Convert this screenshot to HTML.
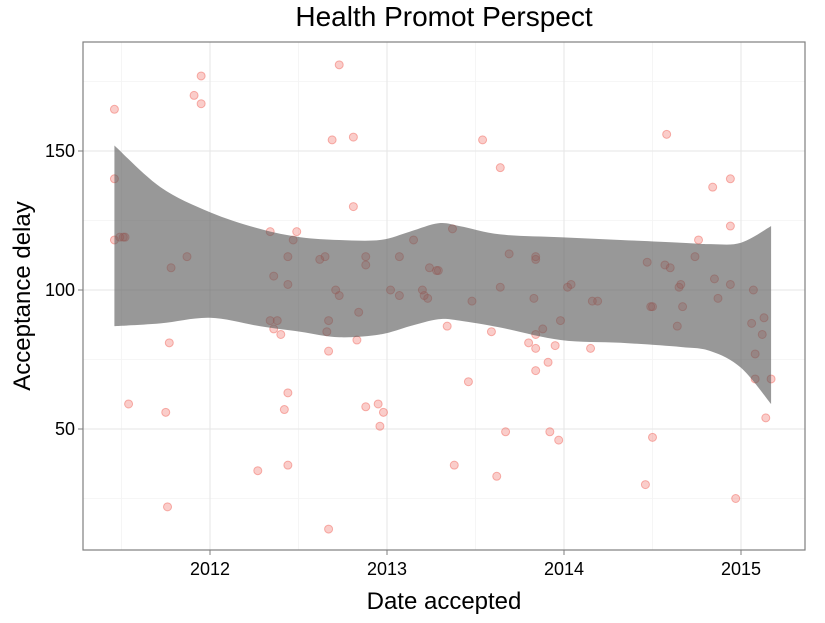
<!DOCTYPE html>
<html><head><meta charset="utf-8"><style>
body{margin:0;background:#fff;font-family:"Liberation Sans",sans-serif;}
</style></head><body>
<svg id="chart" width="825" height="618" xmlns="http://www.w3.org/2000/svg">
<rect width="825" height="618" fill="#fff"/>
<text x="444" y="26" font-size="28" text-anchor="middle" font-family="Liberation Sans">Health Promot Perspect</text>
<g id="grid"></g>
<g id="pts"></g>
<path id="band" fill="#595959" fill-opacity="0.62"/>
<rect x="83" y="42" width="722" height="508" fill="none" stroke="#7f7f7f" stroke-width="1.2"/>
<g id="axes"></g>
<text x="444" y="609" font-size="24" text-anchor="middle">Date accepted</text>
<text transform="translate(30,296) rotate(-90)" font-size="24" text-anchor="middle">Acceptance delay</text>
</svg>
<script>
const years=[2011.46,2011.46,2011.46,2011.49,2011.51,2011.52,2011.54,2011.75,2011.76,2011.77,2011.78,2011.87,2011.91,2011.95,2011.95,2012.27,2012.34,2012.34,2012.36,2012.36,2012.38,2012.40,2012.42,2012.44,2012.44,2012.44,2012.44,2012.47,2012.49,2012.62,2012.65,2012.66,2012.67,2012.67,2012.67,2012.69,2012.71,2012.73,2012.73,2012.81,2012.81,2012.83,2012.84,2012.88,2012.88,2012.88,2012.95,2012.96,2012.98,2013.02,2013.07,2013.07,2013.15,2013.20,2013.21,2013.24,2013.23,2013.28,2013.29,2013.37,2013.34,2013.38,2013.46,2013.48,2013.54,2013.59,2013.62,2013.64,2013.64,2013.67,2013.69,2013.80,2013.83,2013.84,2013.84,2013.84,2013.84,2013.84,2013.88,2013.91,2013.92,2013.95,2013.97,2013.98,2014.02,2014.04,2014.15,2014.16,2014.19,2014.46,2014.47,2014.49,2014.50,2014.50,2014.58,2014.57,2014.60,2014.64,2014.65,2014.66,2014.67,2014.74,2014.76,2014.84,2014.85,2014.87,2014.94,2014.94,2014.94,2014.97,2015.06,2015.07,2015.08,2015.08,2015.12,2015.13,2015.14,2015.17];
const delays=[165,140,118,119,119,119,59,56,22,81,108,112,170,167,177,35,121,89,105,86,89,84,57,63,112,37,102,118,121,111,112,85,78,14,89,154,100,181,98,155,130,82,92,109,112,58,59,51,56,100,98,112,118,100,98,108,97,107,107,122,87,37,67,96,154,85,33,144,101,49,113,81,97,112,111,84,79,71,86,74,49,80,46,89,101,102,79,96,96,30,110,94,94,47,156,109,108,87,101,102,94,112,118,137,104,97,140,123,102,25,88,100,77,68,84,90,54,68];
const bandYears=[2011.46,2011.72,2012.0,2012.28,2012.51,2012.73,2012.96,2013.13,2013.29,2013.41,2013.64,2013.98,2014.32,2014.66,2014.83,2015.0,2015.17];
const bandUpper=[152,137,128,122,119,118,118,121,124,123,120,119,118,117,116.5,117,123];
const bandLower=[87,88,90,87,85,83,84,87,89.5,89,86.5,82,81,79.5,78,72,59];
const xTicks=[2012,2013,2014,2015];
const yTicks=[50,100,150];
const NS="http://www.w3.org/2000/svg";
const X=v=>210+(v-2012)*177;
const Y=v=>290-(v-100)*2.78;
function mk(tag,attrs,parent){const e=document.createElementNS(NS,tag);for(const k in attrs)e.setAttribute(k,attrs[k]);parent.appendChild(e);return e;}
const grid=document.getElementById('grid'),axes=document.getElementById('axes'),pts=document.getElementById('pts');
mk('rect',{x:83,y:42,width:722,height:508,fill:'#fff'},grid);
for(const t of [2011.5,2012.5,2013.5,2014.5]){mk('line',{x1:X(t),x2:X(t),y1:42,y2:550,stroke:'#f3f3f3','stroke-width':0.8},grid);}
for(const t of [25,75,125,175]){mk('line',{x1:83,x2:805,y1:Y(t),y2:Y(t),stroke:'#f3f3f3','stroke-width':0.8},grid);}
xTicks.forEach(t=>{
 const l=mk('line',{x1:X(t),x2:X(t),y1:42,y2:550,stroke:'#e6e6e6','stroke-width':1},grid);
 
 mk('line',{x1:X(t),x2:X(t),y1:550,y2:555,stroke:'#7f7f7f'},axes);
 const tx=mk('text',{x:X(t),y:575,'font-size':18,'text-anchor':'middle'},axes);tx.textContent=t;
 
 
});
yTicks.forEach(t=>{
 const l=mk('line',{x1:83,x2:805,y1:Y(t),y2:Y(t),stroke:'#e6e6e6','stroke-width':1},grid);
 
 mk('line',{x1:78,x2:83,y1:Y(t),y2:Y(t),stroke:'#7f7f7f'},axes);
 const tx=mk('text',{x:75,y:Y(t)+6,'font-size':18,'text-anchor':'end'},axes);tx.textContent=t;
 
 
});
function smooth(p){let s='';for(let i=0;i<p.length-1;i++){const p0=p[Math.max(0,i-1)],p1=p[i],p2=p[i+1],p3=p[Math.min(p.length-1,i+2)];
 const c1=[p1[0]+(p2[0]-p0[0])/6,p1[1]+(p2[1]-p0[1])/6],c2=[p2[0]-(p3[0]-p1[0])/6,p2[1]-(p3[1]-p1[1])/6];
 s+=` C${c1[0].toFixed(1)},${c1[1].toFixed(1)} ${c2[0].toFixed(1)},${c2[1].toFixed(1)} ${p2[0].toFixed(1)},${p2[1].toFixed(1)}`;}return s;}
const up=bandYears.map((y,i)=>[X(y),Y(bandUpper[i])]);
const lo=bandYears.map((y,i)=>[X(y),Y(bandLower[i])]).reverse();
const d='M'+up[0][0]+','+up[0][1]+smooth(up)+' L'+lo[0][0]+','+lo[0][1]+smooth(lo)+'Z';
document.getElementById('band').setAttribute('d',d);
years.forEach((y,i)=>{
 const c=mk('circle',{cx:X(y),cy:Y(delays[i]),r:4,fill:'rgba(240,90,80,0.3)',stroke:'rgba(240,90,80,0.45)','stroke-width':1},pts);
 
 
});
</script>
</body></html>
